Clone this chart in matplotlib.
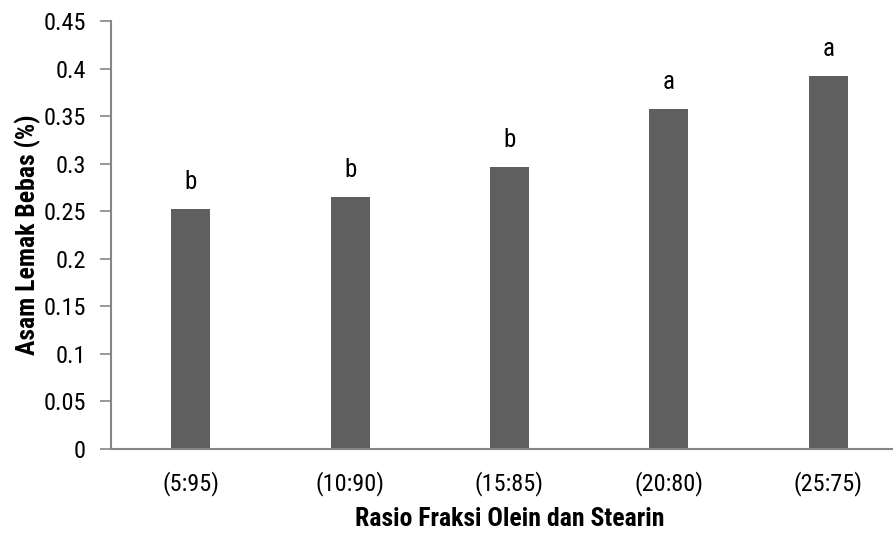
import matplotlib
matplotlib.use("Agg")
import matplotlib.pyplot as plt
from matplotlib import font_manager

# data
categories = ["(5:95)", "(10:90)", "(15:85)", "(20:80)", "(25:75)"]
values = [0.252, 0.265, 0.296, 0.357, 0.392]
letters = ["b", "b", "b", "a", "a"]
yticks = [0, 0.05, 0.1, 0.15, 0.2, 0.25, 0.3, 0.35, 0.4, 0.45]
ytick_labels = ["0", "0.05", "0.1", "0.15", "0.2", "0.25", "0.3", "0.35", "0.4", "0.45"]

names = {f.name for f in font_manager.fontManager.ttflist}
wanted = ["Liberation Sans Narrow", "Roboto Condensed", "Open Sans Condensed",
          "Noto Sans Condensed", "Liberation Sans", "DejaVu Sans"]
fam = [n for n in wanted if n in names]
plt.rcParams["font.family"] = fam

fig = plt.figure(figsize=(8.93, 5.33), dpi=100)
# axes runs a bit past the right edge, like the cropped original
ax = fig.add_axes([111 / 893, 1 - 449 / 533, 797 / 893, 428 / 533])

x = list(range(len(categories)))
ax.bar(x, values, width=0.245, color="#5f5f5f", zorder=2)

for xi, v, t in zip(x, values, letters):
    ax.annotate(t, (xi, v), xytext=(0, 11), textcoords="offset points",
                ha="center", va="bottom", fontsize=18)

ax.set_xlim(-0.5, len(categories) - 0.5)
ax.set_ylim(0, 0.45)
ax.set_yticks(yticks)
ax.set_yticklabels(ytick_labels)
ax.set_xticks(x)
ax.set_xticklabels(categories)

for s in ["top", "right"]:
    ax.spines[s].set_visible(False)
for s in ["left", "bottom"]:
    ax.spines[s].set_color("#868686")
    ax.spines[s].set_linewidth(1.5)

ax.tick_params(axis="y", direction="out", length=8, width=1.2, color="#868686",
               labelsize=17.5, pad=10)
ax.tick_params(axis="x", length=0, labelsize=17.5, pad=16)

ax.set_ylabel("Asam Lemak Bebas (%)", fontsize=18.5, fontweight="bold", labelpad=2)
ax.set_xlabel("Rasio Fraksi Olein dan Stearin", fontsize=18.5, fontweight="bold", labelpad=8)

fig.savefig("out.png", dpi=100)
